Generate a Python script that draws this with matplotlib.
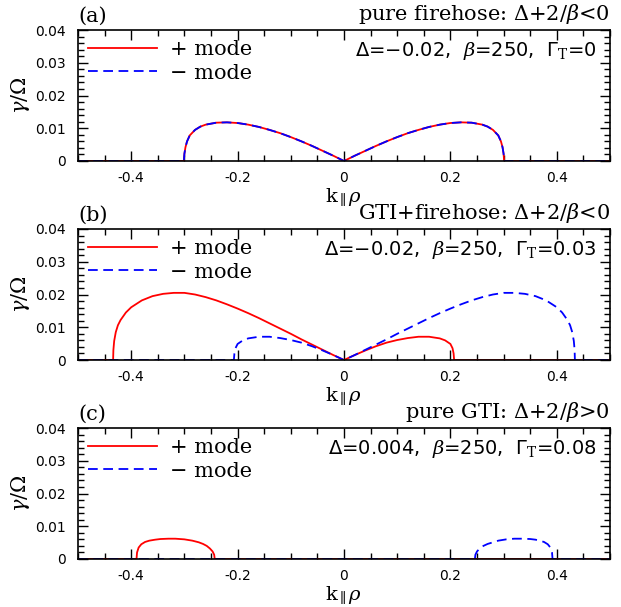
import matplotlib
matplotlib.use("Agg")
import matplotlib.pyplot as plt
from matplotlib.ticker import MultipleLocator, FuncFormatter

plt.rcParams["axes.unicode_minus"] = False
plt.rcParams["mathtext.fontset"] = "dejavuserif"
plt.rcParams["lines.scale_dashes"] = False

# panel (a): pure firehose, both modes identical
k_a = [-0.5, -0.301, -0.300, -0.298, -0.295, -0.29, -0.28, -0.27, -0.26, -0.24,
       -0.22, -0.20, -0.18, -0.16, -0.14, -0.12, -0.10, -0.08, -0.06, -0.04,
       -0.02, 0.0, 0.02, 0.04, 0.06, 0.08, 0.10, 0.12, 0.14, 0.16, 0.18, 0.20,
       0.22, 0.24, 0.26, 0.27, 0.28, 0.29, 0.295, 0.298, 0.300, 0.301, 0.5]
g_a = [0.0, 0.0, 0.0022, 0.0042, 0.0060, 0.0078, 0.0095, 0.0105, 0.0111, 0.0117,
       0.0118, 0.0116, 0.0111, 0.0104, 0.0095, 0.0085, 0.0073, 0.0060, 0.0046, 0.0031,
       0.0016, 0.0, 0.0016, 0.0031, 0.0046, 0.0060, 0.0073, 0.0085, 0.0095, 0.0104, 0.0111, 0.0116,
       0.0118, 0.0117, 0.0111, 0.0105, 0.0095, 0.0078, 0.0060, 0.0042, 0.0022, 0.0, 0.0]

# panel (b): GTI + firehose
k_b_plus = [-0.5, -0.434, -0.4335, -0.432, -0.429, -0.425, -0.42, -0.41, -0.40, -0.38, -0.36,
            -0.34, -0.32, -0.30, -0.28, -0.26, -0.24, -0.22, -0.20, -0.18, -0.16,
            -0.14, -0.12, -0.10, -0.08, -0.06, -0.04, -0.02, 0.0, 0.02, 0.04,
            0.06, 0.08, 0.10, 0.12, 0.14, 0.16, 0.18, 0.19, 0.20, 0.204, 0.206, 0.207, 0.5]
g_b_plus = [0.0, 0.0, 0.0030, 0.0058, 0.0085, 0.0106, 0.0122, 0.0145, 0.0161, 0.0182, 0.0195,
            0.0202, 0.0205, 0.0205, 0.0200, 0.0192, 0.0182, 0.0170, 0.0157, 0.0143, 0.0128,
            0.0112, 0.0096, 0.0080, 0.0063, 0.0047, 0.0031, 0.0015, 0.0, 0.0015, 0.0029,
            0.0042, 0.0053, 0.0061, 0.0067, 0.0071, 0.0071, 0.0066, 0.0060, 0.0049, 0.0036, 0.0020, 0.0, 0.0]
k_b_minus = [-0.5, -0.207, -0.206, -0.204, -0.20, -0.19, -0.18, -0.16, -0.14, -0.12,
             -0.10, -0.08, -0.06, -0.04, -0.02, 0.0, 0.02, 0.04, 0.06, 0.08,
             0.10, 0.12, 0.14, 0.16, 0.18, 0.20, 0.22, 0.24, 0.26, 0.28,
             0.30, 0.32, 0.34, 0.36, 0.38, 0.40, 0.41, 0.42, 0.425, 0.429, 0.432, 0.4335, 0.434, 0.5]
g_b_minus = [0.0, 0.0, 0.0020, 0.0036, 0.0049, 0.0060, 0.0066, 0.0071, 0.0071, 0.0067,
             0.0061, 0.0053, 0.0042, 0.0029, 0.0015, 0.0, 0.0015, 0.0031, 0.0047, 0.0063,
             0.0080, 0.0096, 0.0112, 0.0128, 0.0143, 0.0157, 0.0170, 0.0182, 0.0192, 0.0200,
             0.0205, 0.0205, 0.0202, 0.0195, 0.0182, 0.0161, 0.0145, 0.0122, 0.0106, 0.0085, 0.0058, 0.0030, 0.0, 0.0]

# panel (c): pure GTI
k_c_plus = [-0.5, -0.390, -0.389, -0.386, -0.381, -0.374, -0.366, -0.355, -0.345, -0.33,
            -0.317, -0.30, -0.285, -0.273, -0.265, -0.258, -0.252, -0.247, -0.244, -0.243, 0.5]
g_c_plus = [0.0, 0.0, 0.0020, 0.0035, 0.0045, 0.0052, 0.0056, 0.0059, 0.0061, 0.0062,
            0.0062, 0.0060, 0.0056, 0.0051, 0.0046, 0.0040, 0.0032, 0.0023, 0.0013, 0.0, 0.0]
k_c_minus = [-0.5, 0.246, 0.247, 0.250, 0.255, 0.262, 0.27, 0.28, 0.29, 0.305,
             0.32, 0.335, 0.35, 0.36, 0.368, 0.376, 0.383, 0.388, 0.391, 0.392, 0.5]
g_c_minus = [0.0, 0.0, 0.0013, 0.0023, 0.0032, 0.0040, 0.0046, 0.0051, 0.0056, 0.0060,
             0.0062, 0.0062, 0.0061, 0.0059, 0.0056, 0.0052, 0.0045, 0.0035, 0.0020, 0.0, 0.0]

panels = [
    ("(a)", "pure firehose: Δ+2/$\\beta$<0",
     "Δ=−0.02,  $\\beta$=250,  Γ$_\\mathrm{T}$=0",
     (k_a, g_a), (k_a, g_a)),
    ("(b)", "GTI+firehose: Δ+2/$\\beta$<0",
     "Δ=−0.02,  $\\beta$=250,  Γ$_\\mathrm{T}$=0.03",
     (k_b_plus, g_b_plus), (k_b_minus, g_b_minus)),
    ("(c)", "pure GTI: Δ+2/$\\beta$>0",
     "Δ=0.004,  $\\beta$=250,  Γ$_\\mathrm{T}$=0.08",
     (k_c_plus, g_c_plus), (k_c_minus, g_c_minus)),
]

fig = plt.figure(figsize=(6.21, 6.07), dpi=100)
left, width, height = 78 / 621, 532 / 621, 131 / 607
tops = [30, 229, 428]

serif = "DejaVu Serif"


def fmt(v, pos):
    if abs(v) < 1e-9:
        return "0"
    return "%.1f" % v


def yfmt(v, pos):
    if abs(v) < 1e-9:
        return "0"
    return "%.2f" % v


for (tag, title, params, plus, minus), top in zip(panels, tops):
    ax = fig.add_axes([left, 1 - (top + 131) / 607, width, height])
    ax.plot(plus[0], plus[1], color="#ff0000", lw=1.3, label="+ mode")
    ax.plot(minus[0], minus[1], color="#0000ff", lw=1.3, dashes=(7, 4), label="− mode")
    ax.set_xlim(-0.5, 0.5)
    ax.set_ylim(0, 0.04)
    ax.xaxis.set_major_locator(MultipleLocator(0.2))
    ax.xaxis.set_minor_locator(MultipleLocator(0.05))
    ax.yaxis.set_major_locator(MultipleLocator(0.01))
    ax.yaxis.set_minor_locator(MultipleLocator(0.002))
    ax.xaxis.set_major_formatter(FuncFormatter(fmt))
    ax.yaxis.set_major_formatter(FuncFormatter(yfmt))
    ax.tick_params(which="both", direction="in", top=True, right=True, width=1.0,
                   labelsize=10)
    ax.tick_params(which="major", length=7)
    ax.tick_params(axis="y", which="major", pad=9)
    ax.tick_params(axis="x", which="major", pad=7)
    ax.tick_params(which="minor", length=4)
    for s in ax.spines.values():
        s.set_linewidth(1.2)

    ax.set_xlabel("k$_{\\parallel}\\rho$", family=serif, fontsize=14, labelpad=1)
    ax.set_ylabel("$\\gamma/\\Omega$", fontsize=15, labelpad=2)
    ax.text(0.0, 1.03, tag, transform=ax.transAxes, family=serif, fontsize=15,
            ha="left", va="bottom")
    ax.text(1.0, 1.03, title, transform=ax.transAxes, family=serif, fontsize=15,
            ha="right", va="bottom")
    ax.text(0.975, 0.84, params, transform=ax.transAxes, fontsize=14,
            ha="right", va="center")
    ax.legend(loc="upper left", frameon=False, prop={"family": serif, "size": 15},
              handlelength=3.3, handletextpad=0.6, labelspacing=0.2,
              borderaxespad=0.2, borderpad=0.3)

fig.savefig("out.png", dpi=100)
